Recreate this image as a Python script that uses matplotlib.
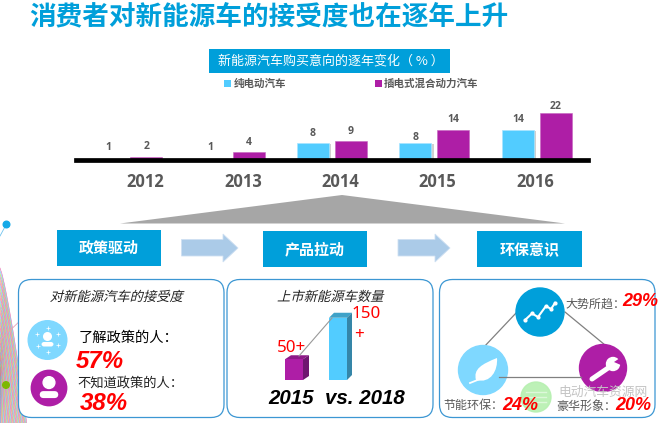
import numpy as np
import matplotlib
matplotlib.use('Agg')
import matplotlib.pyplot as plt
from matplotlib.patches import Rectangle, FancyBboxPatch, Circle, Polygon, PathPatch
from matplotlib.path import Path
from matplotlib.patheffects import AbstractPathEffect, withSimplePatchShadow
from matplotlib.transforms import Affine2D

plt.rcParams['font.family'] = ['Noto Sans CJK SC', 'DejaVu Sans']

# ---- data ----
years = ['2012', '2013', '2014', '2015', '2016']
pure_ev = [1, 1, 8, 8, 14]
plug_in = [2, 4, 9, 14, 22]
series_names = ['纯电动汽车', '插电式混合动力汽车']
model_years = ['2015', '2018']
model_counts = [50, 150]
aware = [57, 38]
reasons = ['大势所趋', '节能环保', '豪华形象']
reason_pct = [29, 24, 20]

BLUE = '#009FDA'; LIGHT = '#52CCFF'; PALE = '#7FD8FF'; PURPLE = '#AE1EA6'; GREY = '#595959'
fs = lambda px: px * 0.72

class Skew(AbstractPathEffect):
    def draw_path(self, renderer, gc, tpath, affine, rgbFace=None):
        renderer.draw_path(gc, tpath, Affine2D().skew_deg(14, 0) + affine, rgbFace)

fig = plt.figure(figsize=(6.6, 4.23), dpi=100, facecolor='white')

# ---- bar chart ----
W, H = 660, 423
ax = fig.add_axes([76 / W, 1 - 160.5 / H, (588 - 76) / W, 60.5 / H])
x = np.arange(5)
b1 = ax.bar(x - 0.185, pure_ev, 0.312, color=LIGHT, edgecolor='#A8E4FF', linewidth=0.5)
b2 = ax.bar(x + 0.185, plug_in, 0.312, color=PURPLE, edgecolor='#C564C0', linewidth=0.4)
for b in list(b1):
    b.set_path_effects([withSimplePatchShadow(offset=(1.5, -0.5), alpha=0.3, shadow_rgbFace='#666666')])
ax.set_xlim(-0.5, 4.5)
ax.set_ylim(0.22, 27.7)
ax.patch.set_alpha(0)
for s in ['top', 'left', 'right']:
    ax.spines[s].set_visible(False)
ax.spines['bottom'].set_linewidth(3.4)
ax.spines['bottom'].set_color('black')
ax.spines['bottom'].set_zorder(1.5)
ax.set_yticks([])
ax.set_xticks([0.18, 1.13, 2.08, 3.03, 3.99], years, fontsize=fs(16.5), fontweight='bold',
              color=GREY, family=['Open Sans', 'DejaVu Sans'])
ax.tick_params(axis='x', length=0, pad=9)
off1 = [3.7, 3.7, 3.3, 0, 3.7]
off2 = [3.5, 2.8, 3.2, 3.5, 0.3]
for i in range(5):
    ax.annotate(str(pure_ev[i]), (i - 0.185, max(pure_ev[i], 1.36)), xytext=(0, off1[i]),
                textcoords='offset points', ha='center', va='bottom', fontsize=fs(10.5),
                fontweight='bold', color=GREY, family=['Open Sans', 'DejaVu Sans'])
    ax.annotate(str(plug_in[i]), (i + 0.185, plug_in[i]), xytext=(0, off2[i]),
                textcoords='offset points', ha='center', va='bottom', fontsize=fs(10.5),
                fontweight='bold', color=GREY, family=['Open Sans', 'DejaVu Sans'])

# ---- pixel overlay ----
ov = fig.add_axes([0, 0, 1, 1], zorder=5)
ov.set_xlim(0, W); ov.set_ylim(H, 0); ov.axis('off'); ov.patch.set_alpha(0)

def T(x, y, s, px, color='black', weight='normal', ha='center', skew=False, family=None, **k):
    t = ov.text(x, y, s, fontsize=fs(px), color=color, fontweight=weight, ha=ha, va='center',
                family=family or ['Noto Sans CJK SC', 'DejaVu Sans'], **k)
    if skew:
        t.set_path_effects([Skew()])
    return t

def R(x0, y0, x1, y1, color, **k):
    ov.add_patch(Rectangle((x0, y0), x1 - x0, y1 - y0, facecolor=color, edgecolor='none', **k))

LB = ['Liberation Sans']

# title
T(268.5, 17, '消费者对新能源车的接受度也在逐年上升', 26.6, BLUE, 'bold')
R(209, 49, 450, 73, BLUE)
T(218, 61, '新能源汽车购买意向的逐年变化（ % ）', 13, 'white', ha='left')
R(224, 80, 231, 87, LIGHT)
T(234, 84, series_names[0], 10.5, GREY, 'bold', ha='left')
R(375, 80, 382, 87, PURPLE)
T(384, 84, series_names[1], 10.5, GREY, 'bold', ha='left')

# triangle
ov.add_patch(Polygon([(120, 223.5), (342, 195), (565, 223.5)], facecolor='#A6A6A6', edgecolor='none'))

# decoration on the left
colors = ['#E050A0', '#55B8EE', '#A8D030', '#A060E0', '#F09040']
for i in range(50):
    t = np.linspace(0, 1, 30)
    x0, y0 = 0, 268 + i * 3.0
    x1, y1 = 27 - i * 0.75, 425
    xs = x0 + (x1 - x0) * t ** 0.8
    ys = y0 + (y1 - y0) * t
    ov.plot(xs, ys, color=colors[i % 5], lw=0.4, alpha=0.9, zorder=1)
ov.plot([0, 6.5], [236, 224], color='#6FC3EE', lw=0.6, zorder=1)
ov.add_patch(Circle((6.5, 224.5), 3.3, color='#14A9E8', zorder=2))
ov.plot([0, 24], [340, 317], color='#E7A0B5', lw=0.6, zorder=1)
ov.add_patch(Circle((24, 317), 3.3, color='#FBE0EA', zorder=2))
ov.add_patch(Circle((6, 385), 3.3, color='#7DB800', zorder=2))

# flow
for (a, b, s) in [(57, 161, '政策驱动'), (263, 367, '产品拉动'), (477, 582, '环保意识')]:
    y0 = 230 if a == 57 else 231
    R(a, y0, b, y0 + 36, BLUE)
    T((a + b) / 2, y0 + 18, s, 15, 'white', 'bold')
for (a, h, b) in [(181.5, 223, 238), (398, 435, 450)]:
    ov.add_patch(Polygon([(a, 239.5), (h, 239.5), (h, 234), (b, 248), (h, 262), (h, 256), (a, 256)],
                         facecolor='#ABCBE8', edgecolor='#CFE0F2', lw=0.6))

# panels
for (a, b) in [(18.5, 224), (227, 433), (439.5, 655)]:
    ov.add_patch(FancyBboxPatch((a + 13, 279.5 + 13), b - a - 26, 138 - 26,
                                boxstyle='round,pad=13,rounding_size=13', facecolor='white',
                                edgecolor='#3C97D3', lw=0.9, zorder=3))

# panel 1
Z = 4
def person(cx, cy, s):
    ov.add_patch(Circle((cx, cy - 3.5 * s), 3.8 * s, color='white', zorder=Z + 1))
    ov.add_patch(FancyBboxPatch((cx - 6 * s, cy + 2 * s), 12 * s, 4.5 * s,
                                boxstyle=f'round,pad=0,rounding_size={2.5 * s}',
                                facecolor='white', edgecolor='none', zorder=Z + 1))
ov.add_patch(Circle((47.5, 340), 19.3, color=PALE, zorder=Z))
person(47.5, 340, 1)
for dx, dy in [(0, -12), (0, 12), (-11, -6), (10, -6), (-10, 6), (10, 5)]:
    ov.plot(47.5 + dx, 340 + dy, marker='+', ms=2.5, mew=0.5, color='white', zorder=Z + 1)
ov.add_patch(Circle((49, 388), 17.7, color=PURPLE, zorder=Z))
person(49, 388, 1.55)
T(116, 297, '对新能源汽车的接受度', 13.3, '#222222', skew=True, zorder=Z)
T(79, 338, '了解政策的人：', 14.3, 'black', ha='left', zorder=Z)
T(77, 383, '不知道政策的人：', 13.3, '#222222', ha='left', zorder=Z)
T(100, 361, f'{aware[0]}%', 24, 'red', 'bold', style='italic', family=LB, zorder=Z)
T(104, 403, f'{aware[1]}%', 24, 'red', 'bold', style='italic', family=LB, zorder=Z)

# panel 2
T(330, 297, '上市新能源车数量', 13.3, '#222222', skew=True, zorder=Z)
def box3d(x0, v, w, dx, dy, front, top, side):
    y1 = 380; y0 = y1 - v * 0.415
    ov.add_patch(Polygon([(x0, y0), (x0 + dx, y0 - dy), (x0 + w + dx, y0 - dy), (x0 + w, y0)], facecolor=top, edgecolor='none', zorder=Z))
    ov.add_patch(Polygon([(x0 + w, y0), (x0 + w + dx, y0 - dy), (x0 + w + dx, y1 - dy), (x0 + w, y1)], facecolor=side, edgecolor='none', zorder=Z))
    ov.add_patch(Rectangle((x0, y0), w, y1 - y0, facecolor=front, edgecolor='none', zorder=Z))
box3d(285, model_counts[0], 18, 6, 4, PURPLE, '#8E1A88', '#6F1670')
box3d(329, model_counts[1], 18, 5, 5, LIGHT, '#3FA2C8', '#3586A8')
ov.plot([299, 332], [356, 318], color='#999999', lw=0.8, zorder=Z)
T(291, 348, f'{model_counts[0]}+', 17, 'red', family=['Noto Sans', 'DejaVu Sans'], zorder=Z)
T(366.5, 314, f'{model_counts[1]}', 17, 'red', family=['Noto Sans', 'DejaVu Sans'], zorder=Z)
T(359, 335, '+', 17, 'red', family=['Noto Sans', 'DejaVu Sans'], zorder=Z)
T(337, 398, f'{model_years[0]}  vs. {model_years[1]}', 20.5, 'black', 'bold', style='italic', family=LB, zorder=Z)

# panel 3
for xs, ys in [([517, 483], [312, 348]), ([565, 605], [312, 345]), ([499, 581], [377, 377])]:
    ov.plot(xs, ys, color='#808080', lw=0.9, zorder=Z + 1 if ys[0] == 377 else Z)
ov.add_patch(Circle((540, 312), 24, color=BLUE, zorder=Z))
ov.plot([525, 532, 538, 546, 551, 555], [320, 313.5, 317, 306, 309, 303], color='white', lw=1.5,
        marker='o', ms=2, zorder=Z + 1)
ov.add_patch(Circle((483, 370), 24.5, color=PALE, zorder=Z))
leaf = Path([(476, 380), (473, 369), (482, 364), (497, 358), (498, 370), (491, 384), (476, 380)],
            [Path.MOVETO, Path.CURVE4, Path.CURVE4, Path.CURVE4, Path.CURVE4, Path.CURVE4, Path.CURVE4])
ov.add_patch(PathPatch(leaf, facecolor='white', edgecolor='none', zorder=Z + 1))
ov.plot([470, 480], [383, 379], color='white', lw=1.3, zorder=Z + 1)
ov.add_patch(Circle((603, 368), 23.5, color=PURPLE, zorder=Z))
ov.plot([592, 611], [379, 366], color='white', lw=3.6, solid_capstyle='round', zorder=Z + 1)
ov.add_patch(Circle((613, 364), 6.5, color='white', zorder=Z + 1))
ov.add_patch(Polygon([(614, 362), (623, 356), (623, 366)], facecolor=PURPLE, edgecolor='none', zorder=Z + 1))

ov.add_patch(Circle((536, 397), 15, color='#B6F0B0', alpha=0.9, zorder=Z))
for dy in (-5, 0, 5):
    ov.plot([526, 546], [397 + dy] * 2, color='#DDF8DA', lw=1, zorder=Z)
T(602.5, 392.5, '电动汽车资源网', 12.8, '#C4C4C4', zorder=Z)

T(565, 304.5, reasons[0] + '：', 12, GREY, ha='left', zorder=Z + 1)
T(640, 302, f'{reason_pct[0]}%', 18, 'red', 'bold', style='italic', family=LB, zorder=Z + 1)
T(443, 406, reasons[1] + '：', 12, GREY, ha='left', zorder=Z + 1)
T(520, 405, f'{reason_pct[1]}%', 18, 'red', 'bold', style='italic', family=LB, zorder=Z + 1)
T(556, 406, reasons[2] + '：', 12, GREY, ha='left', zorder=Z + 1)
T(633, 405, f'{reason_pct[2]}%', 18, 'red', 'bold', style='italic', family=LB, zorder=Z + 1)

fig.savefig('out.png', dpi=100)
